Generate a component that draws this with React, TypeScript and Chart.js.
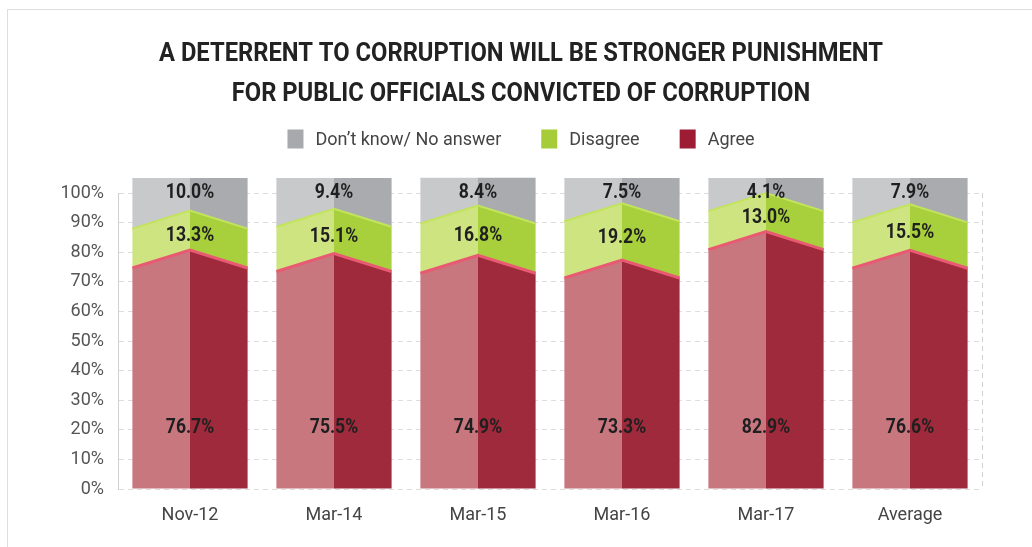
import React, { useEffect, useRef } from 'react';
import { Chart, registerables } from 'chart.js';

Chart.register(...registerables);

const categories = ['Nov-12', 'Mar-14', 'Mar-15', 'Mar-16', 'Mar-17', 'Average'];
const agree = [76.7, 75.5, 74.9, 73.3, 82.9, 76.6];
const disagree = [13.3, 15.1, 16.8, 19.2, 13.0, 15.5];
const dontKnow = [10.0, 9.4, 8.4, 7.5, 4.1, 7.9];
const yTickValues = [0, 10, 20, 30, 40, 50, 60, 70, 80, 90, 100];
const titleLines = [
  'A DETERRENT TO CORRUPTION WILL BE STRONGER PUNISHMENT',
  'FOR PUBLIC OFFICIALS CONVICTED OF CORRUPTION',
];
const seriesNames = ['Agree', 'Disagree', 'Don\u2019t know/ No answer'];

const FONT = 'Roboto, "Liberation Sans", sans-serif';

const faces = [
  { light: '#c8777f', dark: '#9f2a3c', legend: '#9e1c33', edge: '#e85a72' },
  { light: '#cee480', dark: '#a8d03c', legend: '#a6cd39', edge: '#c2e45c' },
  { light: '#c8c9cb', dark: '#a9abae', legend: '#a7a9ac', edge: '' },
];

const ROOF_UP = 12;
const ROOF_DOWN = 6;
const TOP_LIFT = 15;

function condensedText(ctx: any, text: string, x: number, y: number, sx: number) {
  ctx.save();
  ctx.translate(x, y);
  ctx.scale(sx, 1);
  ctx.fillText(text, 0, 0);
  ctx.restore();
}

const headerPlugin = {
  id: 'header',
  afterDraw(chart: any) {
    const ctx = chart.ctx;
    const cx = 521;
    ctx.save();
    ctx.font = `bold 25px ${FONT}`;
    ctx.fillStyle = '#222222';
    ctx.textAlign = 'center';
    ctx.textBaseline = 'middle';
    condensedText(ctx, titleLines[0], cx, 55, 0.95);
    condensedText(ctx, titleLines[1], cx, 95, 0.95);
    ctx.restore();
    const order = [2, 1, 0];
    const boxW = 16;
    const boxH = 19;
    const gapText = 12;
    const gapItem = 40;
    ctx.save();
    ctx.font = `18px ${FONT}`;
    const widths = order.map((i) => ctx.measureText(seriesNames[i]).width);
    const total = widths.reduce((a, w) => a + boxW + gapText + w, 0) + gapItem * (order.length - 1);
    let x = cx - total / 2;
    const yc = 139;
    ctx.textAlign = 'left';
    ctx.textBaseline = 'middle';
    order.forEach((i, n) => {
      ctx.fillStyle = faces[i].legend;
      ctx.fillRect(x, yc - boxH / 2, boxW, boxH);
      ctx.fillStyle = '#444444';
      ctx.fillText(seriesNames[i], x + boxW + gapText, yc + 1);
      x += boxW + gapText + widths[n] + gapItem;
    });
    ctx.restore();
  },
};

const prismPlugin = {
  id: 'prism',
  beforeDatasetsDraw(chart: any) {
    const ctx = chart.ctx;
    const y = chart.scales.y;
    const area = chart.chartArea;
    const metas = [0, 1, 2].map((i) => chart.getDatasetMeta(i));

    ctx.save();
    ctx.strokeStyle = '#d0d0d0';
    ctx.lineWidth = 1;
    ctx.setLineDash([5, 4]);
    ctx.beginPath();
    ctx.moveTo(area.right + 0.5, y.getPixelForValue(100));
    ctx.lineTo(area.right + 0.5, y.getPixelForValue(0));
    ctx.stroke();
    ctx.restore();

    for (let j = 0; j < categories.length; j++) {
      const bars = metas.map((m: any) => m.data[j]);
      const cx = bars[0].x;
      const w = bars[0].width;
      const L = cx - w / 2;
      const R = cx + w / 2;
      const b = [bars[0].base, bars[0].y, bars[1].y, bars[2].y];
      const roof = (k: number): number[][] => {
        if (k === 0) return [[L, b[0]], [cx, b[0]], [R, b[0]]];
        if (k === 3) return [[L, b[3] - TOP_LIFT], [cx, b[3] - TOP_LIFT], [R, b[3] - TOP_LIFT]];
        return [[L, b[k] + ROOF_DOWN], [cx, b[k] - ROOF_UP], [R, b[k] + ROOF_DOWN]];
      };
      for (let k = 0; k < 3; k++) {
        const top = roof(k + 1);
        const bot = roof(k).slice().reverse();
        ctx.save();
        ctx.beginPath();
        const pts = top.concat(bot);
        pts.forEach((p, i) => (i === 0 ? ctx.moveTo(p[0], p[1]) : ctx.lineTo(p[0], p[1])));
        ctx.closePath();
        ctx.clip();
        const yTop = b[3] - TOP_LIFT - 20;
        const h = b[0] - yTop + 20;
        ctx.fillStyle = faces[k].light;
        ctx.fillRect(L - 1, yTop, cx - L + 1.5, h);
        ctx.fillStyle = faces[k].dark;
        ctx.fillRect(cx, yTop, R - cx + 1, h);
        ctx.restore();
      }
      for (let k = 1; k <= 2; k++) {
        const r = roof(k);
        ctx.save();
        ctx.strokeStyle = faces[k - 1].edge;
        ctx.lineWidth = k === 1 ? 3 : 2;
        ctx.beginPath();
        r.forEach((p, i) => (i === 0 ? ctx.moveTo(p[0], p[1]) : ctx.lineTo(p[0], p[1])));
        ctx.stroke();
        ctx.restore();
      }
      ctx.save();
      ctx.font = `bold 20px ${FONT}`;
      ctx.fillStyle = '#1f1f1f';
      ctx.textAlign = 'center';
      ctx.textBaseline = 'middle';
      condensedText(ctx, agree[j].toFixed(1) + '%', cx, y.getPixelForValue(20.6), 0.88);
      condensedText(ctx, disagree[j].toFixed(1) + '%', cx, (b[1] + b[2]) / 2 - 6, 0.88);
      condensedText(ctx, dontKnow[j].toFixed(1) + '%', cx, y.getPixelForValue(100), 0.88);
      ctx.restore();
    }
    return false;
  },
};

export default function App() {
  const ref = useRef<HTMLCanvasElement | null>(null);
  useEffect(() => {
    if (!ref.current) return;
    const chart = new Chart(ref.current, {
      type: 'bar',
      data: {
        labels: categories,
        datasets: [
          { label: seriesNames[0], data: agree, backgroundColor: faces[0].legend, borderWidth: 0 },
          { label: seriesNames[1], data: disagree, backgroundColor: faces[1].legend, borderWidth: 0 },
          { label: seriesNames[2], data: dontKnow, backgroundColor: faces[2].legend, borderWidth: 0 },
        ],
      },
      options: {
        animation: false,
        responsive: false,
        devicePixelRatio: 1,
        layout: { padding: { left: 0, right: 50, top: 193, bottom: 0 } },
        datasets: { bar: { barPercentage: 0.8, categoryPercentage: 1 } },
        plugins: {
          title: { display: false },
          legend: { display: false },
          tooltip: { enabled: false },
        },
        scales: {
          x: {
            stacked: true,
            grid: { display: false, drawTicks: false },
            border: { display: false },
            ticks: { color: '#444444', font: { family: FONT, size: 18 }, padding: 16 },
            afterFit: (s: any) => {
              s.height = 58;
            },
          },
          y: {
            stacked: true,
            min: 0,
            max: 100,
            afterBuildTicks: (s: any) => {
              s.ticks = yTickValues.map((v) => ({ value: v }));
            },
            afterFit: (s: any) => {
              s.width = 118;
            },
            grid: { color: '#dddddd', drawTicks: false },
            border: { display: true, color: '#d0d0d0', dash: [5, 4] },
            ticks: {
              color: '#555555',
              padding: 14,
              font: { family: FONT, size: 18 },
              callback: (v: any) => v + '%',
            },
          },
        },
      },
      plugins: [prismPlugin, headerPlugin],
    });
    return () => chart.destroy();
  }, []);
  return (
    <div style={{ position: 'absolute', left: 0, top: 0, width: 1032, height: 547, background: '#ffffff' }}>
      <div
        style={{
          position: 'absolute',
          left: 7,
          top: 9,
          right: 0,
          bottom: 0,
          borderTop: '1px solid #dedede',
          borderLeft: '1px solid #dedede',
        }}
      />
      <canvas ref={ref} width={1032} height={547} style={{ position: 'absolute', left: 0, top: 0 }} />
    </div>
  );
}
